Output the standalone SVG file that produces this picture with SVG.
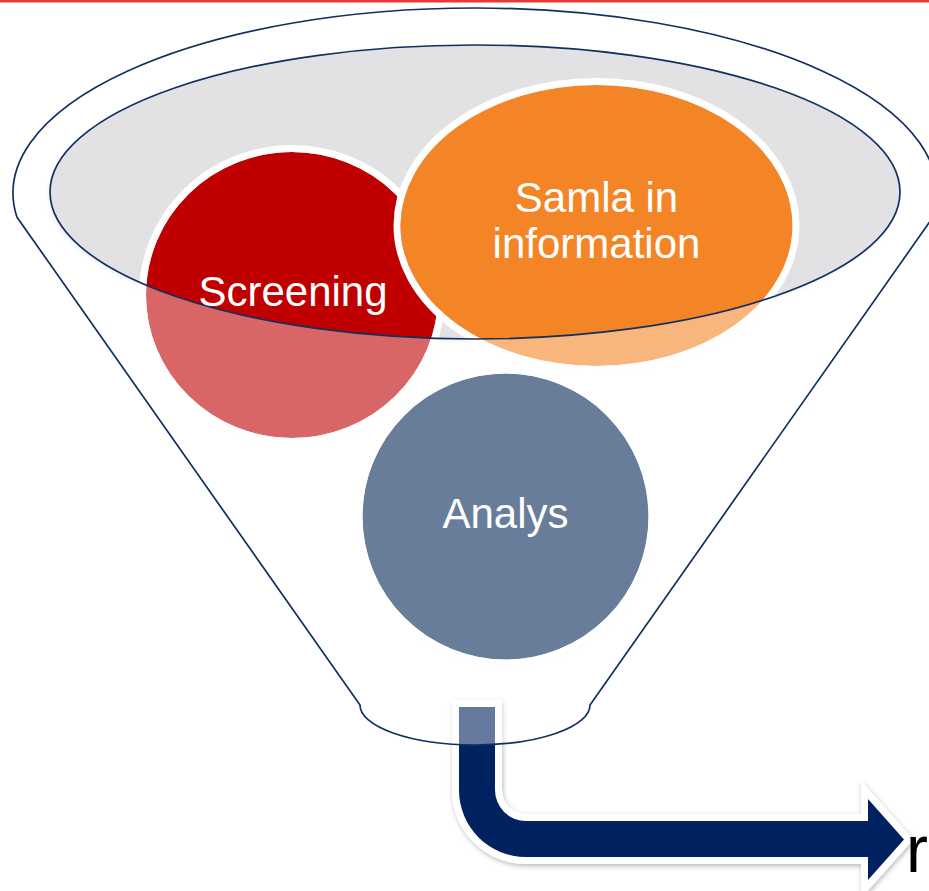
<svg xmlns="http://www.w3.org/2000/svg" width="929" height="891" viewBox="0 0 929 891">
  <defs>
    <style>
      .lbl { font-family: "Liberation Sans", Arial, sans-serif; font-size: 42px; fill: #ffffff; text-anchor: middle; }
      .rim { fill: none; stroke: #12305e; stroke-width: 1.7; }
      .ring { fill: none; stroke: #ffffff; stroke-width: 7; }
    </style>
    <filter id="sh" x="-20%" y="-20%" width="140%" height="140%">
      <feDropShadow dx="1" dy="2" stdDeviation="2.5" flood-color="#000000" flood-opacity="0.28"/>
    </filter>
    <filter id="blur" x="-10%" y="-10%" width="120%" height="120%">
      <feGaussianBlur stdDeviation="1.5"/>
    </filter>
  </defs>

  <rect x="0" y="0" width="929" height="2.5" fill="#e53935"/>

  <!-- funnel rim fill -->
  <g id="funnel-rim-fill">
    <ellipse cx="473" cy="195" rx="425" ry="147" fill="#ebebed" filter="url(#blur)"/>
    <ellipse cx="475" cy="192" rx="425" ry="147" fill="#e2e2e5"/>
  </g>

  <g id="screening">
    <ellipse cx="292" cy="295" rx="146" ry="143" fill="#c00000" filter="url(#sh)"/>
    <ellipse cx="292" cy="295" rx="149.5" ry="146.5" class="ring"/>
  </g>

  <g id="samla">
    <ellipse cx="596.5" cy="225.5" rx="196" ry="140.5" fill="#f38526" filter="url(#sh)"/>
    <ellipse cx="596.5" cy="225.5" rx="199.5" ry="144" class="ring"/>
  </g>

  <g id="connectors">
    <path id="out-arrow" d="M 459 707 L 459 790 A 67 67 0 0 0 526 857 L 868 857 L 868 880 L 904 839.5 L 868 799 L 868 821 L 526 821 A 31 31 0 0 1 495 790 L 495 707 Z"
          fill="#002060" stroke="#ffffff" stroke-width="14" stroke-linejoin="miter" paint-order="stroke" filter="url(#sh)"/>
  </g>

  <!-- translucent funnel body over everything behind it, except the rim area -->
  <path id="funnel-body" fill="#ffffff" fill-opacity="0.4" fill-rule="evenodd"
        d="M 16.9 217 A 462 185 0 1 1 933.1 217 L 590 705 A 115 40 0 0 1 360 705 Z
           M 50 192 A 425 147 0 1 0 900 192 A 425 147 0 1 0 50 192 Z"/>

  <g id="funnel-lines">
    <path class="rim" d="M 16.9 217 A 462 185 0 1 1 933.1 217 L 590 705 A 115 40 0 0 1 360 705 Z"/>
    <ellipse class="rim" cx="475" cy="192" rx="425" ry="147"/>
  </g>

  <g id="analys">
    <circle cx="505.5" cy="516.5" r="143" fill="#687d9a" filter="url(#sh)"/>
    <circle cx="505.5" cy="516.5" r="146.5" class="ring"/>
  </g>

  <g id="labels">
    <text class="lbl" x="293" y="306">Screening</text>
    <text class="lbl" x="596.5" y="212">Samla in</text>
    <text class="lbl" x="596.5" y="258">information</text>
    <text class="lbl" x="505.5" y="528">Analys</text>
  </g>

  <text x="906" y="872" font-family="'Liberation Sans', Arial, sans-serif" font-size="66" fill="#000000">r</text>
</svg>
